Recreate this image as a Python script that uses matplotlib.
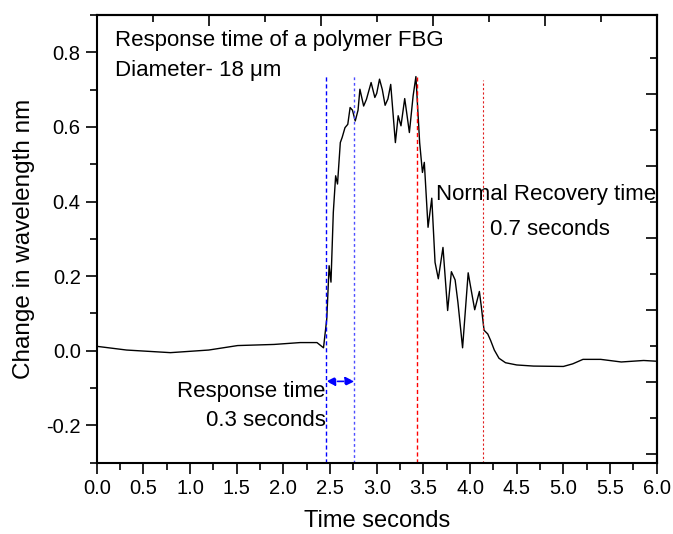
import numpy as np
import matplotlib.pyplot as plt
from matplotlib.ticker import MultipleLocator, FormatStrFormatter, FixedLocator

plt.rcParams['font.family'] = ['Liberation Sans', 'DejaVu Sans']

# time (s) and wavelength change (nm)
time = [0.0, 0.32, 0.79, 1.2, 1.51, 1.9, 2.18, 2.36, 2.43, 2.465, 2.49, 2.51,
        2.535, 2.56, 2.58, 2.61, 2.63, 2.66, 2.69, 2.715, 2.74, 2.77, 2.80,
        2.82, 2.86, 2.89, 2.94, 2.98, 3.00, 3.03, 3.06, 3.09, 3.12, 3.15,
        3.20, 3.23, 3.26, 3.30, 3.32, 3.35, 3.39, 3.42, 3.46, 3.49, 3.51,
        3.55, 3.59, 3.625, 3.66, 3.71, 3.76, 3.80, 3.84, 3.87, 3.92, 3.98,
        4.0, 4.05, 4.10, 4.12, 4.15, 4.19, 4.22, 4.26, 4.31, 4.38, 4.5,
        4.68, 5.0, 5.1, 5.21, 5.40, 5.62, 5.86, 6.0]
shift = [0.012, 0.002, -0.005, 0.002, 0.014, 0.017, 0.022, 0.022, 0.008,
         0.086, 0.228, 0.184, 0.371, 0.469, 0.447, 0.558, 0.572, 0.598,
         0.607, 0.652, 0.645, 0.616, 0.645, 0.701, 0.656, 0.674, 0.719,
         0.679, 0.69, 0.728, 0.70, 0.658, 0.675, 0.714, 0.558, 0.63, 0.603,
         0.676, 0.64, 0.585, 0.683, 0.735, 0.558, 0.478, 0.505, 0.331, 0.409,
         0.237, 0.193, 0.277, 0.108, 0.212, 0.19, 0.13, 0.008, 0.209, 0.18,
         0.11, 0.159, 0.12, 0.055, 0.045, 0.028, 0.002, -0.02, -0.032,
         -0.038, -0.041, -0.042, -0.035, -0.023, -0.023, -0.03, -0.026,
         -0.028]

# marker lines: start/end of response, start/end of recovery
resp_start, resp_end = 2.46, 2.76
rec_start, rec_end = 3.43, 4.14

fig = plt.figure(figsize=(6.73, 5.34), dpi=100)
ax = fig.add_axes([0.1437, 0.1335, 0.8321, 0.8384])

ax.plot(time, shift, color='black', lw=1.0)

ax.plot([resp_start, resp_start], [-0.3, 0.739], color='blue', lw=1, dashes=(3, 2))
ax.plot([resp_end, resp_end], [-0.3, 0.739], color='#4d4dff', lw=1, dashes=(2, 2))
ax.plot([rec_start, rec_start], [-0.3, 0.734], color='red', lw=1, dashes=(3, 2))
ax.plot([rec_end, rec_end], [-0.3, 0.726], color='#e02020', lw=0.8, dashes=(2, 2))

ax.annotate('', xy=(resp_start, -0.082), xytext=(resp_end, -0.082),
            arrowprops=dict(arrowstyle='<|-|>', color='blue', lw=1.2,
                            linestyle='--', mutation_scale=13,
                            shrinkA=0, shrinkB=0))

fs = 16
ax.text(0.2, 0.833, 'Response time of a polymer FBG', fontsize=fs, va='center')
ax.text(0.2, 0.75, 'Diameter- 18 \u03bcm', fontsize=fs, va='center')
ax.text(3.64, 0.42, 'Normal Recovery time', fontsize=fs, va='center')
ax.text(4.21, 0.325, '0.7 seconds', fontsize=fs, va='center')
ax.text(2.455, -0.11, 'Response time', fontsize=fs, va='center', ha='right')
ax.text(2.455, -0.187, '0.3 seconds', fontsize=fs, va='center', ha='right')

ax.set_xlim(0, 6)
ax.set_ylim(-0.3, 0.9)
ax.xaxis.set_major_locator(MultipleLocator(0.5))
ax.xaxis.set_minor_locator(MultipleLocator(0.25))
ax.yaxis.set_major_locator(MultipleLocator(0.2))
ax.yaxis.set_minor_locator(MultipleLocator(0.1))
ax.xaxis.set_major_formatter(FormatStrFormatter('%.1f'))
ax.yaxis.set_major_formatter(FormatStrFormatter('%.1f'))

ax.tick_params(which='both', direction='out', labelsize=14.5, width=1.2,
               top=False, right=False)
ax.tick_params(which='major', length=8)
ax.tick_params(which='minor', length=5)

# inward ticks on top and right (own spacing, as in the source plot)
ax2 = ax.secondary_xaxis('top')
ax2.xaxis.set_major_locator(MultipleLocator(1.2))
ax2.xaxis.set_minor_locator(MultipleLocator(0.6))
ax2.tick_params(which='both', direction='in', labeltop=False, width=1.2)
ax2.tick_params(which='major', length=8)
ax2.tick_params(which='minor', length=5)
ax3 = ax.secondary_yaxis('right')
ax3.yaxis.set_major_locator(FixedLocator(np.arange(0.688, -0.3, -0.1927)))
ax3.yaxis.set_minor_locator(FixedLocator(np.arange(0.784, -0.3, -0.1927)))
ax3.tick_params(which='both', direction='in', labelright=False, width=1.2)
ax3.tick_params(which='major', length=8)
ax3.tick_params(which='minor', length=5)

for s in ax.spines.values():
    s.set_linewidth(1.5)
ax2.spines['top'].set_linewidth(1.5)
ax3.spines['right'].set_linewidth(1.5)

ax.set_xlabel('Time seconds', fontsize=17, labelpad=9)
ax.set_ylabel('Change in wavelength nm', fontsize=17.5, labelpad=8)

fig.savefig('out.png', dpi=100)
